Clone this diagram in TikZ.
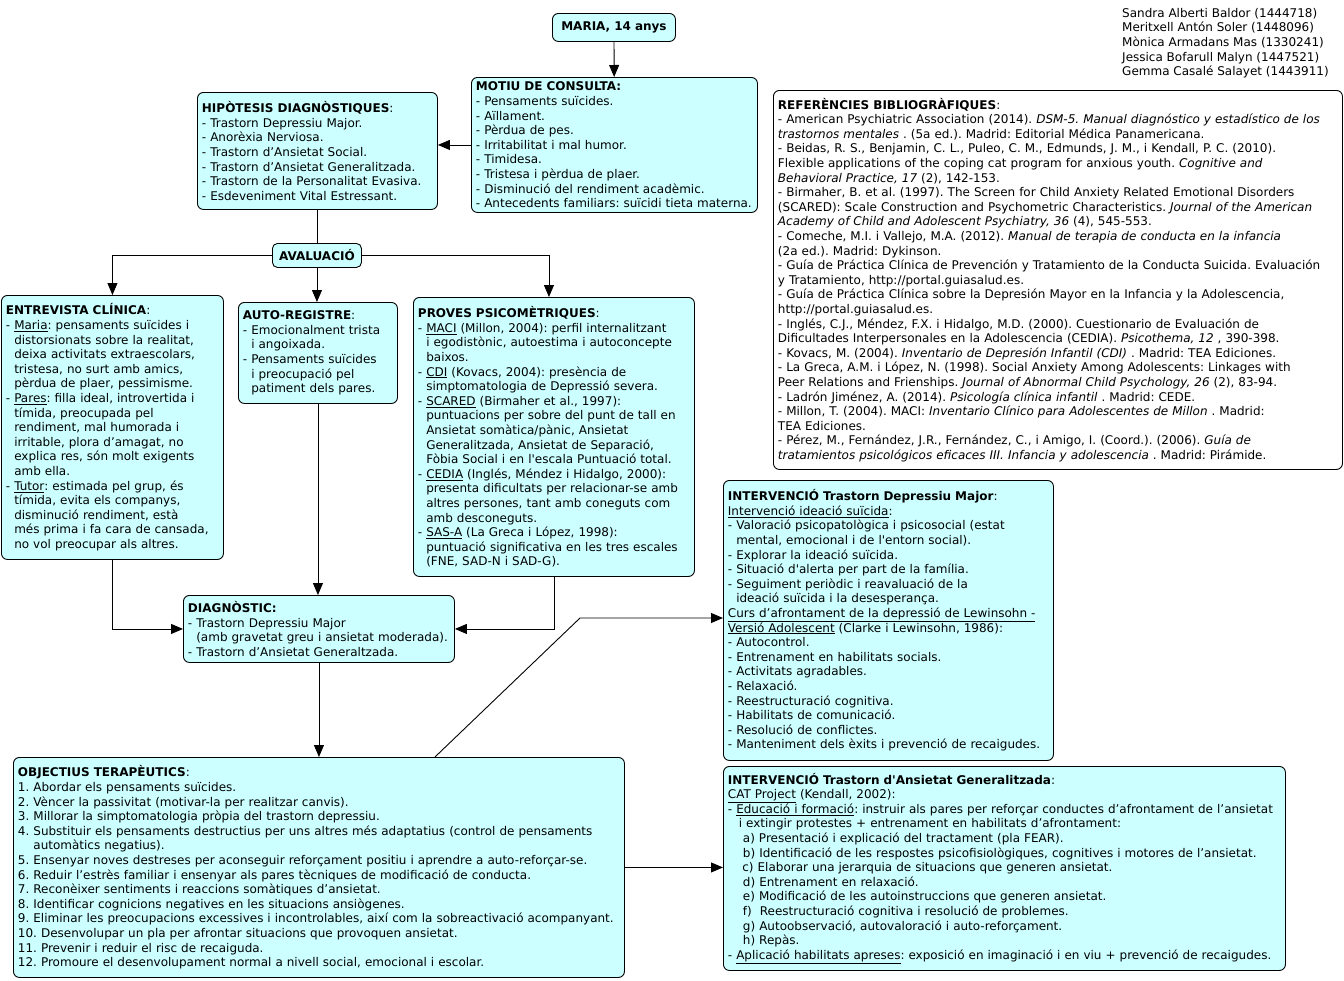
\documentclass[tikz,border=0pt]{standalone}
\usepackage{fontspec}
\setmainfont{DejaVu Sans}[Ligatures=TeXOff]
\usetikzlibrary{arrows.meta}
\definecolor{boxfill}{RGB}{204,255,255}
\newcommand{\ind}{\hphantom{- }}
\newcommand{\bxfont}{\fontsize{12}{14.6}\selectfont\frenchspacing\hyphenpenalty=10000\exhyphenpenalty=10000}
\tikzset{
  bx/.style={draw, line width=0.9pt, fill=boxfill, rounded corners=6pt, anchor=north west,
    align=left, inner xsep=4.5pt, inner ysep=2pt, font=\bxfont},
  arr/.style={-{Triangle[length=12pt,width=10pt]}, line width=0.9pt},
  ln/.style={line width=0.9pt}
}
\begin{document}
\begin{tikzpicture}[x=1pt,y=-1pt]
\useasboundingbox (0,0) rectangle (1344,980);
\fill[white] (0,0) rectangle (1344,980);

\node[bx, align=center, text width=114pt, minimum height=28pt] (maria) at (552,13) {\textbf{MARIA, 14 anys}};

\node[bx, text width=277pt, minimum height=135pt] (motiu) at (471,77) {\textbf{MOTIU DE CONSULTA:}\\
- Pensaments suïcides.\\
- Aïllament.\\
- Pèrdua de pes.\\
- Irritabilitat i mal humor.\\
- Timidesa.\\
- Tristesa i pèrdua de plaer.\\
- Disminució del rendiment acadèmic.\\
- Antecedents familiars: suïcidi tieta materna.};

\node[bx, text width=231pt, minimum height=117pt] (hip) at (197,92) {\textbf{HIPÒTESIS DIAGNÒSTIQUES}:\\
- Trastorn Depressiu Major.\\
- Anorèxia Nerviosa.\\
- Trastorn d’Ansietat Social.\\
- Trastorn d’Ansietat Generalitzada.\\
- Trastorn de la Personalitat Evasiva.\\
- Esdeveniment Vital Estressant.};

\node[bx, align=center, text width=80pt, minimum height=24pt, rounded corners=5pt] (aval) at (272,243) {\textbf{AVALUACIÓ}};

\node[bx, text width=213pt, minimum height=264pt] (entrev) at (1,295) {\textbf{ENTREVISTA CLÍNICA}:\\
- \underline{Maria}: pensaments suïcides i\\
\ind distorsionats sobre la realitat,\\
\ind deixa activitats extraescolars,\\
\ind tristesa, no surt amb amics,\\
\ind pèrdua de plaer, pessimisme.\\
- \underline{Pares}: filla ideal, introvertida i\\
\ind tímida, preocupada pel\\
\ind rendiment, mal humorada i\\
\ind irritable, plora d’amagat, no\\
\ind explica res, són molt exigents\\
\ind amb ella.\\
- \underline{Tutor}: estimada pel grup, és\\
\ind tímida, evita els companys,\\
\ind disminució rendiment, està\\
\ind més prima i fa cara de cansada,\\
\ind no vol preocupar als altres.};

\node[bx, text width=150pt, minimum height=101pt] (auto) at (238,302) {\textbf{AUTO-REGISTRE}:\\
- Emocionalment trista\\
\ind i angoixada.\\
- Pensaments suïcides\\
\ind i preocupació pel\\
\ind patiment dels pares.};

\node[bx, text width=272pt, minimum height=279pt] (proves) at (413,297) {\textbf{PROVES PSICOMÈTRIQUES}:\\
- \underline{MACI} (Millon, 2004): perfil internalitzant\\
\ind i egodistònic, autoestima i autoconcepte\\
\ind baixos.\\
- \underline{CDI} (Kovacs, 2004): presència de\\
\ind simptomatologia de Depressió severa.\\
- \underline{SCARED} (Birmaher et al., 1997):\\
\ind puntuacions per sobre del punt de tall en\\
\ind Ansietat somàtica/pànic, Ansietat\\
\ind Generalitzada, Ansietat de Separació,\\
\ind Fòbia Social i en l'escala Puntuació total.\\
- \underline{CEDIA} (Inglés, Méndez i Hidalgo, 2000):\\
\ind presenta dificultats per relacionar-se amb\\
\ind altres persones, tant amb coneguts com\\
\ind amb desconeguts.\\
- \underline{SAS-A} (La Greca i López, 1998):\\
\ind puntuació significativa en les tres escales\\
\ind (FNE, SAD-N i SAD-G).};

\node[bx, text width=262pt, minimum height=67pt] (diag) at (183,595) {\textbf{DIAGNÒSTIC:}\\
- Trastorn Depressiu Major\\
\ind(amb gravetat greu i ansietat moderada).\\
- Trastorn d’Ansietat Generaltzada.};

\node[bx, text width=602pt, minimum height=220pt] (obj) at (13,757) {\textbf{OBJECTIUS TERAPÈUTICS}:\\
1. Abordar els pensaments suïcides.\\
2. Vèncer la passivitat (motivar-la per realitzar canvis).\\
3. Millorar la simptomatologia pròpia del trastorn depressiu.\\
4. Substituir els pensaments destructius per uns altres més adaptatius (control de pensaments\\
\hphantom{4. }automàtics negatius).\\
5. Ensenyar noves destreses per aconseguir reforçament positiu i aprendre a auto-reforçar-se.\\
6. Reduir l’estrès familiar i ensenyar als pares tècniques de modificació de conducta.\\
7. Reconèixer sentiments i reaccions somàtiques d’ansietat.\\
8. Identificar cognicions negatives en les situacions ansiògenes.\\
9. Eliminar les preocupacions excessives i incontrolables, així com la sobreactivació acompanyant.\\
10. Desenvolupar un pla per afrontar situacions que provoquen ansietat.\\
11. Prevenir i reduir el risc de recaiguda.\\
12. Promoure el desenvolupament normal a nivell social, emocional i escolar.};

\node[bx, text width=321pt, minimum height=280pt] (int1) at (723,480) {\textbf{INTERVENCIÓ Trastorn Depressiu Major}:\\
\underline{Intervenció ideació suïcida}:\\
- Valoració psicopatològica i psicosocial (estat\\
\ind mental, emocional i de l'entorn social).\\
- Explorar la ideació suïcida.\\
- Situació d'alerta per part de la família.\\
- Seguiment periòdic i reavaluació de la\\
\ind ideació suïcida i la desesperança.\\
\underline{Curs d’afrontament de la depressió de Lewinsohn -}\\
\underline{Versió Adolescent} (Clarke i Lewinsohn, 1986):\\
- Autocontrol.\\
- Entrenament en habilitats socials.\\
- Activitats agradables.\\
- Relaxació.\\
- Reestructuració cognitiva.\\
- Habilitats de comunicació.\\
- Resolució de conflictes.\\
- Manteniment dels èxits i prevenció de recaigudes.};

\node[bx, text width=553pt, minimum height=204pt] (int2) at (723,766) {\textbf{INTERVENCIÓ Trastorn d'Ansietat Generalitzada}:\\
\underline{CAT Project} (Kendall, 2002):\\
- \underline{Educació i formació}: instruir als pares per reforçar conductes d’afrontament de l’ansietat\\
\hspace*{0.9em}i extingir protestes + entrenament en habilitats d’afrontament:\\
\hspace*{1.25em}a) Presentació i explicació del tractament (pla FEAR).\\
\hspace*{1.25em}b) Identificació de les respostes psicofisiològiques, cognitives i motores de l’ansietat.\\
\hspace*{1.2em}c) Elaborar una jerarquia de situacions que generen ansietat.\\
\hspace*{1.25em}d) Entrenament en relaxació.\\
\hspace*{1.25em}e) Modificació de les autoinstruccions que generen ansietat.\\
\hspace*{1.25em}f)\ \ Reestructuració cognitiva i resolució de problemes.\\
\hspace*{1.25em}g) Autoobservació, autovaloració i auto-reforçament.\\
\hspace*{1.25em}h) Repàs.\\
- \underline{Aplicació habilitats apreses}: exposició en imaginació i en viu + prevenció de recaigudes.};

\node[bx, fill=white, text width=560pt, minimum height=379pt] (refs) at (773,90) {\textbf{REFERÈNCIES BIBLIOGRÀFIQUES}:\\
- American Psychiatric Association (2014). \textit{DSM-5. Manual diagnóstico y estadístico de los}\\
\textit{trastornos mentales} . (5a ed.). Madrid: Editorial Médica Panamericana.\\
- Beidas, R. S., Benjamin, C. L., Puleo, C. M., Edmunds, J. M., i Kendall, P. C. (2010).\\
Flexible applications of the coping cat program for anxious youth. \textit{Cognitive and}\\
\textit{Behavioral Practice, 17} (2), 142-153.\\
- Birmaher, B. et al. (1997). The Screen for Child Anxiety Related Emotional Disorders\\
(SCARED): Scale Construction and Psychometric Characteristics. \textit{Journal of the American}\\
\textit{Academy of Child and Adolescent Psychiatry, 36} (4), 545-553.\\
- Comeche, M.I. i Vallejo, M.A. (2012). \textit{Manual de terapia de conducta en la infancia}\\
(2a ed.). Madrid: Dykinson.\\
- Guía de Práctica Clínica de Prevención y Tratamiento de la Conducta Suicida. Evaluación\\
y Tratamiento, http://portal.guiasalud.es.\\
- Guía de Práctica Clínica sobre la Depresión Mayor en la Infancia y la Adolescencia,\\
http://portal.guiasalud.es.\\
- Inglés, C.J., Méndez, F.X. i Hidalgo, M.D. (2000). Cuestionario de Evaluación de\\
Dificultades Interpersonales en la Adolescencia (CEDIA). \textit{Psicothema, 12} , 390-398.\\
- Kovacs, M. (2004). \textit{Inventario de Depresión Infantil (CDI)} . Madrid: TEA Ediciones.\\
- La Greca, A.M. i López, N. (1998). Social Anxiety Among Adolescents: Linkages with\\
Peer Relations and Frienships. \textit{Journal of Abnormal Child Psychology, 26} (2), 83-94.\\
- Ladrón Jiménez, A. (2014). \textit{Psicología clínica infantil} . Madrid: CEDE.\\
- Millon, T. (2004). MACI: \textit{Inventario Clínico para Adolescentes de Millon} . Madrid:\\
TEA Ediciones.\\
- Pérez, M., Fernández, J.R., Fernández, C., i Amigo, I. (Coord.). (2006). \textit{Guía de}\\
\textit{tratamientos psicológicos eficaces III. Infancia y adolescencia} . Madrid: Pirámide.};

\node[anchor=north west, align=left, inner sep=0pt, font=\bxfont] (authors) at (1122,8) {Sandra Alberti Baldor (1444718)\\
Meritxell Antón Soler (1448096)\\
Mònica Armadans Mas (1330241)\\
Jessica Bofarull Malyn (1447521)\\
Gemma Casalé Salayet (1443911)};

\coordinate (bend) at (580,618);

\draw[arr] (maria) -- (motiu);
\draw[arr] (motiu.west) -- (motiu.west -| hip.east);
\draw[ln] (hip.south) -- (hip.south |- aval.north);
\draw[arr] (aval.west) -| (entrev.north);
\draw[arr] (aval.south) -- (aval.south |- auto.north);
\draw[arr] (aval.east) -| ([xshift=-5pt]proves.north);
\draw[arr] (entrev.south) |- (diag.west);
\draw[arr] (auto.south) -- (auto.south |- diag.north);
\draw[arr] (proves.south) |- (diag.east);
\draw[arr] (diag.south) -- (diag.south |- obj.north);
\draw[arr] ([xshift=116pt]obj.north) -- (bend) -- (bend -| int1.west);
\draw[arr] (obj.east) -- (obj.east -| int2.west);
\end{tikzpicture}
\end{document}
